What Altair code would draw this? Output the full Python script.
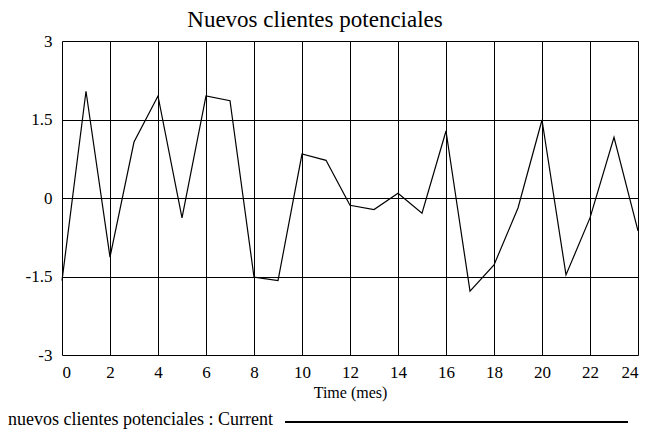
import altair as alt
import pandas as pd

months = list(range(0, 25))
values = [-1.58, 2.04, -1.13, 1.07, 1.95, -0.38, 1.95, 1.86, -1.51, -1.58,
          0.84, 0.72, -0.14, -0.22, 0.09, -0.29, 1.28, -1.78, -1.28, -0.19,
          1.49, -1.47, -0.38, 1.16, -0.63]
series_name = "nuevos clientes potenciales : Current"
title_text = "Nuevos clientes potenciales"
x_title = "Time (mes)"
x_ticks = list(range(0, 25, 2))
y_ticks = [-3, -1.5, 0, 1.5, 3]

df = pd.DataFrame({"t": months, "v": values})
FONT = "Liberation Serif"

line = alt.Chart(df).mark_line(color="black", strokeWidth=1.2).encode(
    x=alt.X("t:Q", scale=alt.Scale(domain=[0, 24], nice=False),
            axis=alt.Axis(values=x_ticks, title=x_title, grid=True,
                          gridColor="black", gridOpacity=1, gridWidth=1,
                          tickSize=0, labelPadding=9, domain=False,
                          labelFont=FONT, labelFontSize=17, labelColor="black",
                          titleFont=FONT, titleFontSize=16, titleFontWeight="normal",
                          titleColor="black", titlePadding=4)),
    y=alt.Y("v:Q", scale=alt.Scale(domain=[-3, 3], nice=False),
            axis=alt.Axis(values=y_ticks, title=None, grid=True,
                          gridColor="black", gridOpacity=1, gridWidth=1,
                          tickSize=0, labelPadding=10, domain=False,
                          labelExpr="'' + datum.value",
                          labelFont=FONT, labelFontSize=17, labelColor="black")),
)

leg_df = pd.DataFrame({"name": [series_name]})
leg_text = alt.Chart(leg_df).mark_text(align="left", baseline="middle", font=FONT,
                                       fontSize=18, color="black").encode(
    text="name:N", x=alt.value(-54), y=alt.value(379))
leg_rule = alt.Chart(leg_df).mark_rule(color="black", strokeWidth=2).encode(
    x=alt.value(223), x2=alt.value(566), y=alt.value(381))

chart = alt.layer(line, leg_text, leg_rule).properties(
    width=576, height=314,
    title=alt.TitleParams(title_text, font=FONT, fontSize=23, fontWeight="normal",
                          color="black", anchor="middle", dx=-35, offset=0),
    autosize=alt.AutoSizeParams(type="none"),
    padding={"left": 54, "top": 33, "right": 4, "bottom": 74},
).configure_view(stroke="black", strokeWidth=2.5).configure(background="white")

chart.save("out.html", embed_options={"renderer": "svg", "actions": False})
